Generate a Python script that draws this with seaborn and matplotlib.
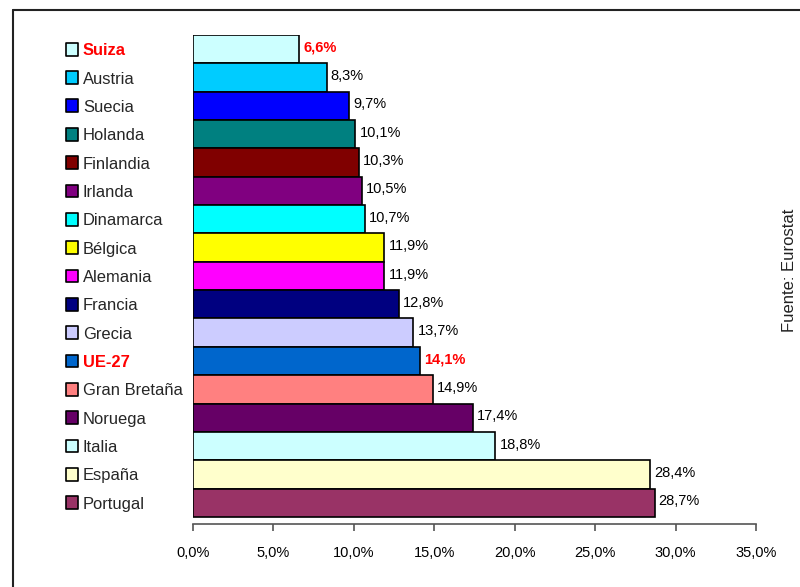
import matplotlib
matplotlib.use("Agg")
import matplotlib.pyplot as plt
import matplotlib.transforms as mtransforms
from matplotlib.font_manager import fontManager
import seaborn as sns
import pandas as pd

paises = ["Suiza", "Austria", "Suecia", "Holanda", "Finlandia", "Irlanda",
          "Dinamarca", "Bélgica", "Alemania", "Francia", "Grecia", "UE-27",
          "Gran Bretaña", "Noruega", "Italia", "España", "Portugal"]
valores = [6.6, 8.3, 9.7, 10.1, 10.3, 10.5, 10.7, 11.9, 11.9, 12.8, 13.7,
           14.1, 14.9, 17.4, 18.8, 28.4, 28.7]
colores = ["#CCFFFF", "#00CCFF", "#0000FF", "#008080", "#800000", "#800080",
           "#00FFFF", "#FFFF00", "#FF00FF", "#000080", "#CCCCFF", "#0066CC",
           "#FF8080", "#660066", "#CCFFFF", "#FFFFCC", "#993366"]
destacados = ["Suiza", "UE-27"]
xticks = [0, 5, 10, 15, 20, 25, 30, 35]
fuente = "Fuente: Eurostat"

sns.set_style("white")
names = {f.name for f in fontManager.ttflist}
narrow = "Liberation Sans Narrow" in names
fam = "Liberation Sans Narrow" if narrow else "Liberation Sans"
plt.rcParams["font.family"] = [fam, "DejaVu Sans"]
k = 1.0 if narrow else 0.86

df = pd.DataFrame({"pais": paises, "valor": valores})

fig = plt.figure(figsize=(8, 5.87), dpi=100)
W, H = 800, 587
ax = fig.add_axes([193 / W, (H - 524) / H, 563 / W, 489 / H])

sns.barplot(data=df, x="valor", y="pais", hue="pais", palette=colores,
            order=paises, hue_order=paises, legend=False, width=1.0,
            edgecolor="black", linewidth=1.2, saturation=1, ax=ax)

ax.set_xlim(0, 35)
ax.set_ylim(16.75, -0.5)
ax.set_xlabel("")
ax.set_ylabel("")
for s in ["left", "right", "top"]:
    ax.spines[s].set_visible(False)
ax.spines["bottom"].set_color("#555555")
ax.spines["bottom"].set_linewidth(1.2)
ax.set_xticks(xticks)
ax.set_xticklabels([f"{t:.1f}%".replace(".", ",") for t in xticks], fontsize=12.3 * k)
ax.tick_params(axis="x", bottom=True, direction="out", length=5, width=1.2,
               color="#555555", pad=11, labelcolor="black")

# category labels as left-aligned tick labels with colored squares
ax.set_yticks(range(len(paises)))
ax.set_yticklabels(paises, fontsize=13.8 * k)
ax.tick_params(axis="y", left=False, length=0, pad=110 * 72 / 100)
for lbl in ax.get_yticklabels():
    lbl.set_horizontalalignment("left")
    if lbl.get_text() in destacados:
        lbl.set_color("#FF0000")
        lbl.set_fontweight("bold")

trans = mtransforms.blended_transform_factory(fig.transFigure, ax.transData)
ax.scatter([72 / W] * len(paises), range(len(paises)), marker="s", s=85,
           c=colores, edgecolors="black", linewidths=1.2, transform=trans,
           clip_on=False, zorder=5)

for i, (p, v) in enumerate(zip(paises, valores)):
    txt = f"{v:.1f}%".replace(".", ",")
    if p in destacados:
        ax.text(v + 0.25, i - 0.05, txt, va="center", ha="left", fontsize=12.3 * k,
                color="#FF0000", fontweight="bold")
    else:
        ax.text(v + 0.25, i - 0.05, txt, va="center", ha="left", fontsize=12.3 * k,
                color="black")

fig.text(790 / W, 1 - 270 / H, fuente, rotation=90, ha="center", va="center",
         fontsize=12, color="#222222")

# outer frame (left and top edges visible)
fig.add_artist(plt.Line2D([13 / W, 13 / W], [0, 1 - 10 / H], transform=fig.transFigure,
                          color="#222222", linewidth=1.5))
fig.add_artist(plt.Line2D([13 / W, 1], [1 - 10 / H, 1 - 10 / H], transform=fig.transFigure,
                          color="#222222", linewidth=1.5))

fig.savefig("out.png", dpi=100)
